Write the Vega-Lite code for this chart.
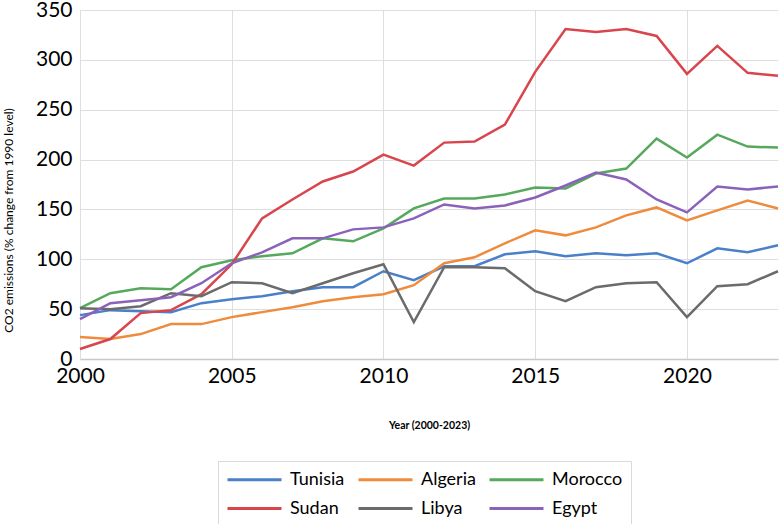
{
  "$schema": "https://vega.github.io/schema/vega-lite/v6.json",
  "width": 698,
  "height": 349,
  "autosize": {"type": "none"},
  "padding": {"left": 80, "top": 10, "right": 1, "bottom": 165},
  "background": "white",
  "config": {
    "font": "Lato",
    "view": {"stroke": null},
    "legend": {
      "orient": "none",
      "legendX": 138,
      "legendY": 451,
      "direction": "horizontal",
      "columns": 3,
      "symbolType": "M-1,0H5",
      "symbolSize": 324,
      "symbolStrokeWidth": 3,
      "symbolFillColor": "transparent",
      "labelFontSize": 18,
      "labelColor": "#000000",
      "labelOffset": 43,
      "columnPadding": 7,
      "rowPadding": 9,
      "padding": 8,
      "strokeColor": "#d9d9d9",
      "fillColor": "#ffffff"
    }
  },
  "data": {
    "values": [
      {"country": "Tunisia", "year": 2000, "value": 44},
      {"country": "Tunisia", "year": 2001, "value": 49},
      {"country": "Tunisia", "year": 2002, "value": 48},
      {"country": "Tunisia", "year": 2003, "value": 47},
      {"country": "Tunisia", "year": 2004, "value": 56},
      {"country": "Tunisia", "year": 2005, "value": 60},
      {"country": "Tunisia", "year": 2006, "value": 63},
      {"country": "Tunisia", "year": 2007, "value": 68},
      {"country": "Tunisia", "year": 2008, "value": 72},
      {"country": "Tunisia", "year": 2009, "value": 72},
      {"country": "Tunisia", "year": 2010, "value": 88},
      {"country": "Tunisia", "year": 2011, "value": 79},
      {"country": "Tunisia", "year": 2012, "value": 93},
      {"country": "Tunisia", "year": 2013, "value": 93},
      {"country": "Tunisia", "year": 2014, "value": 105},
      {"country": "Tunisia", "year": 2015, "value": 108},
      {"country": "Tunisia", "year": 2016, "value": 103},
      {"country": "Tunisia", "year": 2017, "value": 106},
      {"country": "Tunisia", "year": 2018, "value": 104},
      {"country": "Tunisia", "year": 2019, "value": 106},
      {"country": "Tunisia", "year": 2020, "value": 96},
      {"country": "Tunisia", "year": 2021, "value": 111},
      {"country": "Tunisia", "year": 2022, "value": 107},
      {"country": "Tunisia", "year": 2023, "value": 114},
      {"country": "Algeria", "year": 2000, "value": 22},
      {"country": "Algeria", "year": 2001, "value": 20},
      {"country": "Algeria", "year": 2002, "value": 25},
      {"country": "Algeria", "year": 2003, "value": 35},
      {"country": "Algeria", "year": 2004, "value": 35},
      {"country": "Algeria", "year": 2005, "value": 42},
      {"country": "Algeria", "year": 2006, "value": 47},
      {"country": "Algeria", "year": 2007, "value": 52},
      {"country": "Algeria", "year": 2008, "value": 58},
      {"country": "Algeria", "year": 2009, "value": 62},
      {"country": "Algeria", "year": 2010, "value": 65},
      {"country": "Algeria", "year": 2011, "value": 74},
      {"country": "Algeria", "year": 2012, "value": 96},
      {"country": "Algeria", "year": 2013, "value": 102},
      {"country": "Algeria", "year": 2014, "value": 116},
      {"country": "Algeria", "year": 2015, "value": 129},
      {"country": "Algeria", "year": 2016, "value": 124},
      {"country": "Algeria", "year": 2017, "value": 132},
      {"country": "Algeria", "year": 2018, "value": 144},
      {"country": "Algeria", "year": 2019, "value": 152},
      {"country": "Algeria", "year": 2020, "value": 139},
      {"country": "Algeria", "year": 2021, "value": 149},
      {"country": "Algeria", "year": 2022, "value": 159},
      {"country": "Algeria", "year": 2023, "value": 151},
      {"country": "Morocco", "year": 2000, "value": 51},
      {"country": "Morocco", "year": 2001, "value": 66},
      {"country": "Morocco", "year": 2002, "value": 71},
      {"country": "Morocco", "year": 2003, "value": 70},
      {"country": "Morocco", "year": 2004, "value": 92},
      {"country": "Morocco", "year": 2005, "value": 99},
      {"country": "Morocco", "year": 2006, "value": 103},
      {"country": "Morocco", "year": 2007, "value": 106},
      {"country": "Morocco", "year": 2008, "value": 121},
      {"country": "Morocco", "year": 2009, "value": 118},
      {"country": "Morocco", "year": 2010, "value": 131},
      {"country": "Morocco", "year": 2011, "value": 151},
      {"country": "Morocco", "year": 2012, "value": 161},
      {"country": "Morocco", "year": 2013, "value": 161},
      {"country": "Morocco", "year": 2014, "value": 165},
      {"country": "Morocco", "year": 2015, "value": 172},
      {"country": "Morocco", "year": 2016, "value": 171},
      {"country": "Morocco", "year": 2017, "value": 186},
      {"country": "Morocco", "year": 2018, "value": 191},
      {"country": "Morocco", "year": 2019, "value": 221},
      {"country": "Morocco", "year": 2020, "value": 202},
      {"country": "Morocco", "year": 2021, "value": 225},
      {"country": "Morocco", "year": 2022, "value": 213},
      {"country": "Morocco", "year": 2023, "value": 212},
      {"country": "Sudan", "year": 2000, "value": 10},
      {"country": "Sudan", "year": 2001, "value": 20},
      {"country": "Sudan", "year": 2002, "value": 46},
      {"country": "Sudan", "year": 2003, "value": 49},
      {"country": "Sudan", "year": 2004, "value": 65},
      {"country": "Sudan", "year": 2005, "value": 95},
      {"country": "Sudan", "year": 2006, "value": 141},
      {"country": "Sudan", "year": 2007, "value": 160},
      {"country": "Sudan", "year": 2008, "value": 178},
      {"country": "Sudan", "year": 2009, "value": 188},
      {"country": "Sudan", "year": 2010, "value": 205},
      {"country": "Sudan", "year": 2011, "value": 194},
      {"country": "Sudan", "year": 2012, "value": 217},
      {"country": "Sudan", "year": 2013, "value": 218},
      {"country": "Sudan", "year": 2014, "value": 235},
      {"country": "Sudan", "year": 2015, "value": 288},
      {"country": "Sudan", "year": 2016, "value": 331},
      {"country": "Sudan", "year": 2017, "value": 328},
      {"country": "Sudan", "year": 2018, "value": 331},
      {"country": "Sudan", "year": 2019, "value": 324},
      {"country": "Sudan", "year": 2020, "value": 286},
      {"country": "Sudan", "year": 2021, "value": 314},
      {"country": "Sudan", "year": 2022, "value": 287},
      {"country": "Sudan", "year": 2023, "value": 284},
      {"country": "Libya", "year": 2000, "value": 51},
      {"country": "Libya", "year": 2001, "value": 50},
      {"country": "Libya", "year": 2002, "value": 53},
      {"country": "Libya", "year": 2003, "value": 66},
      {"country": "Libya", "year": 2004, "value": 63},
      {"country": "Libya", "year": 2005, "value": 77},
      {"country": "Libya", "year": 2006, "value": 76},
      {"country": "Libya", "year": 2007, "value": 66},
      {"country": "Libya", "year": 2008, "value": 76},
      {"country": "Libya", "year": 2009, "value": 86},
      {"country": "Libya", "year": 2010, "value": 95},
      {"country": "Libya", "year": 2011, "value": 37},
      {"country": "Libya", "year": 2012, "value": 92},
      {"country": "Libya", "year": 2013, "value": 92},
      {"country": "Libya", "year": 2014, "value": 91},
      {"country": "Libya", "year": 2015, "value": 68},
      {"country": "Libya", "year": 2016, "value": 58},
      {"country": "Libya", "year": 2017, "value": 72},
      {"country": "Libya", "year": 2018, "value": 76},
      {"country": "Libya", "year": 2019, "value": 77},
      {"country": "Libya", "year": 2020, "value": 42},
      {"country": "Libya", "year": 2021, "value": 73},
      {"country": "Libya", "year": 2022, "value": 75},
      {"country": "Libya", "year": 2023, "value": 88},
      {"country": "Egypt", "year": 2000, "value": 40},
      {"country": "Egypt", "year": 2001, "value": 56},
      {"country": "Egypt", "year": 2002, "value": 59},
      {"country": "Egypt", "year": 2003, "value": 62},
      {"country": "Egypt", "year": 2004, "value": 76},
      {"country": "Egypt", "year": 2005, "value": 96},
      {"country": "Egypt", "year": 2006, "value": 107},
      {"country": "Egypt", "year": 2007, "value": 121},
      {"country": "Egypt", "year": 2008, "value": 121},
      {"country": "Egypt", "year": 2009, "value": 130},
      {"country": "Egypt", "year": 2010, "value": 132},
      {"country": "Egypt", "year": 2011, "value": 141},
      {"country": "Egypt", "year": 2012, "value": 155},
      {"country": "Egypt", "year": 2013, "value": 151},
      {"country": "Egypt", "year": 2014, "value": 154},
      {"country": "Egypt", "year": 2015, "value": 162},
      {"country": "Egypt", "year": 2016, "value": 174},
      {"country": "Egypt", "year": 2017, "value": 187},
      {"country": "Egypt", "year": 2018, "value": 180},
      {"country": "Egypt", "year": 2019, "value": 160},
      {"country": "Egypt", "year": 2020, "value": 147},
      {"country": "Egypt", "year": 2021, "value": 173},
      {"country": "Egypt", "year": 2022, "value": 170},
      {"country": "Egypt", "year": 2023, "value": 173}
    ]
  },
  "mark": {"type": "line", "strokeWidth": 2.5},
  "encoding": {
    "x": {
      "field": "year",
      "type": "quantitative",
      "scale": {"domain": [2000, 2023], "nice": false, "zero": false},
      "axis": {
        "title": "Year (2000-2023)",
        "values": [2000, 2005, 2010, 2015, 2020],
        "format": "d",
        "labelFontSize": 21,
        "labelColor": "#000000",
        "labelPadding": 6,
        "labelFlush": false,
        "ticks": false,
        "domainColor": "#c8c8c8",
        "domainWidth": 1.5,
        "gridColor": "#dedede",
        "gridWidth": 1,
        "titleFontSize": 10.5,
        "titleFontWeight": "bold",
        "titleColor": "#000000",
        "titleY": 66,
        "titleBaseline": "middle"
      }
    },
    "y": {
      "field": "value",
      "type": "quantitative",
      "scale": {"domain": [0, 350], "nice": false},
      "axis": {
        "title": "CO2 emissions (% change from 1990 level)",
        "values": [0, 50, 100, 150, 200, 250, 300, 350],
        "labelFontSize": 21,
        "labelColor": "#000000",
        "labelPadding": 8,
        "labelFlush": false,
        "ticks": false,
        "domainColor": "#dedede",
        "gridColor": "#dedede",
        "gridWidth": 1,
        "titleFontSize": 12,
        "titleFontWeight": "normal",
        "titleColor": "#000000",
        "titleX": -72,
        "titleY": 210,
        "titleAlign": "center",
        "titleBaseline": "middle",
        "titleAngle": 270
      }
    },
    "color": {
      "field": "country",
      "type": "nominal",
      "title": null,
      "scale": {
        "domain": ["Tunisia", "Algeria", "Morocco", "Sudan", "Libya", "Egypt"],
        "range": ["#4a7fc9", "#ef8b3c", "#56a95c", "#d9454c", "#6b6b6b", "#8a62b9"]
      }
    }
  }
}
